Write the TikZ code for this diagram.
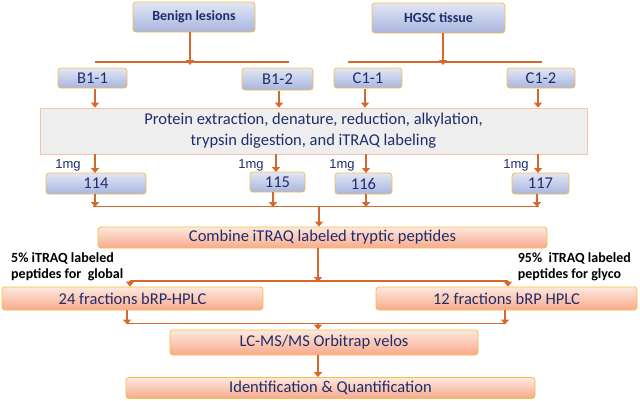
\documentclass[tikz,border=0pt]{standalone}
\usepackage{fontspec}
\setmainfont{Carlito}
\newfontfamily\arialf{Liberation Sans}
\usetikzlibrary{arrows.meta}
\definecolor{navy}{RGB}{31,45,107}
\definecolor{gold}{RGB}{245,190,70}
\definecolor{blueTop}{RGB}{226,231,245}
\definecolor{blueBot}{RGB}{168,181,222}
\definecolor{salTop}{RGB}{254,232,222}
\definecolor{salBot}{RGB}{248,170,140}
\definecolor{arrowc}{RGB}{214,104,44}
\definecolor{grayf}{RGB}{238,238,238}
\definecolor{grayb}{RGB}{246,196,170}
\tikzset{
  bluebox/.style={draw=gold, line width=0.8pt, rounded corners=3pt, top color=blueTop, bottom color=blueBot, text=navy, inner sep=0pt},
  salbox/.style={draw=gold, line width=0.8pt, rounded corners=3pt, top color=salTop, bottom color=salBot, text=navy, inner sep=0pt},
  darr/.style={draw=arrowc, line width=2.8pt, -{Triangle[width=8pt,length=5pt]}},
  hline/.style={draw=arrowc, line width=1.2pt},
  mg/.style={text=navy, font=\arialf\fontsize{13}{14}\selectfont, inner sep=0pt},
  lab/.style={text=black, font=\bfseries\fontsize{14}{15.5}\selectfont, inner sep=0pt, align=left},
  bigtxt/.style={font=\fontsize{16.5}{18}\selectfont}
}
\begin{document}
\begin{tikzpicture}[x=1pt,y=-1pt]
\useasboundingbox[fill=white] (0,0) rectangle (640,400);
% top boxes
\node[bluebox, minimum width=122pt, minimum height=30pt, font=\bfseries\fontsize{14}{16}\selectfont] (benign) at (194,17) {Benign lesions};
\node[bluebox, minimum width=133pt, minimum height=30pt, font=\bfseries\fontsize{14}{16}\selectfont] (hgsc) at (438.5,18) {HGSC tissue};
\coordinate (bsplit) at (190,62);
\coordinate (hsplit) at (443,62);
\draw[darr] (benign.south -| bsplit) -- ([yshift=-3pt]bsplit);
\draw[darr] (hgsc.south -| hsplit) -- ([yshift=-3pt]hsplit);
\draw[hline] (95,62) coordinate (bl) -- (289,62) coordinate (br);
\draw[hline] (348,62) coordinate (hl) -- (542,62) coordinate (hr);
% sample boxes
\tikzset{samp/.style={bluebox, bigtxt}}
\node[samp, minimum width=69pt, minimum height=20pt] (b11) at (92.5,78) {B1-1};
\node[samp, minimum width=71pt, minimum height=22pt] (b12) at (277.5,79) {B1-2};
\node[samp, minimum width=68pt, minimum height=20pt] (c11) at (368,78) {C1-1};
\node[samp, minimum width=68pt, minimum height=20pt] (c12) at (541,78) {C1-2};
% protein box
\node[draw=grayb, line width=0.8pt, fill=grayf, minimum width=547pt, minimum height=46pt, align=center, text=navy, font=\fontsize{16.5}{21}\selectfont, inner sep=0pt] (prot) at (313.5,131) {Protein extraction, denature, reduction, alkylation,\\trypsin digestion, and iTRAQ labeling};
\draw[darr] (95,89) coordinate (a1) -- (a1 |- prot.north);
\draw[darr] (279,91) coordinate (a2) -- (a2 |- prot.north);
\draw[darr] (365,89) coordinate (a3) -- (a3 |- prot.north);
\draw[darr] (538,89) coordinate (a4) -- (a4 |- prot.north);
% iTRAQ boxes
\tikzset{tag/.style={bluebox, bigtxt}}
\node[tag, minimum width=100pt, minimum height=21pt] (t114) at (96,183.5) {114};
\node[tag, minimum width=55pt, minimum height=20pt] (t115) at (277.5,182) {115};
\node[tag, minimum width=57pt, minimum height=21pt] (t116) at (363.5,183.5) {116};
\node[tag, minimum width=57pt, minimum height=21pt] (t117) at (540.5,183.5) {117};
\draw[darr] (prot.south -| 95,0) -- (95,173);
\draw[darr] (prot.south -| 276,0) -- (276,172);
\draw[darr] (prot.south -| 366,0) -- (366,173);
\draw[darr] (prot.south -| 538,0) -- (538,173);
\node[mg] (m1) at (68,165) {1mg};
\node[mg] (m2) at (251,165) {1mg};
\node[mg] (m3) at (342,165) {1mg};
\node[mg] (m4) at (516,165) {1mg};
% merge line
\draw[hline] (93,206.5) coordinate (ml) -- (539,206.5) coordinate (mr);
\draw[darr] (t114.south -| 95,0) -- (95,207);
\draw[darr] (t115.south -| 273,0) -- (273,207);
\draw[darr] (t116.south -| 366,0) -- (366,207);
\draw[darr] (t117.south -| 537,0) -- (537,207);
% combine
\node[salbox, bigtxt, minimum width=449pt, minimum height=21pt] (comb) at (322.5,237.5) {Combine iTRAQ labeled tryptic peptides};
\draw[darr] (319,206) coordinate (cm) -- (cm |- comb.north);
% split
\draw[hline] (130,281) coordinate (sl) -- (508,281) coordinate (sr);
\draw[darr] (comb.south -| 318,0) -- (318,282);
\node[salbox, bigtxt, minimum width=261pt, minimum height=23pt] (f24) at (132.5,298.5) {24 fractions bRP-HPLC};
\node[salbox, bigtxt, minimum width=261pt, minimum height=23pt] (f12) at (506.5,298.5) {12 fractions bRP HPLC};
\draw[darr] (sl) -- (sl |- f24.north);
\draw[darr] (sr) -- (sr |- f12.north);
\node[lab, anchor=west] (l5) at (11,267) {5\% iTRAQ labeled\\peptides for\ \ global};
\node[lab, anchor=east, align=left] (l95) at (631,267) {95\%\ \ iTRAQ labeled\\peptides for glyco};
% second merge
\draw[hline] (127,323.5) coordinate (ql) -- (505,323.5) coordinate (qr);
\draw[darr] (f24.south -| ql) -- ([yshift=-1pt]ql);
\draw[darr] (f12.south -| qr) -- ([yshift=-1pt]qr);
\node[salbox, bigtxt, minimum width=308pt, minimum height=25pt] (lcms) at (324,342.5) {LC-MS/MS Orbitrap velos};
\draw[darr] (318,323) coordinate (lm) -- (lm |- lcms.north);
\node[salbox, bigtxt, minimum width=409pt, minimum height=21pt] (ident) at (330.5,388) {Identification \& Quantification};
\draw[darr] (lcms.south -| lm) -- (lm |- ident.north);
\end{tikzpicture}
\end{document}
